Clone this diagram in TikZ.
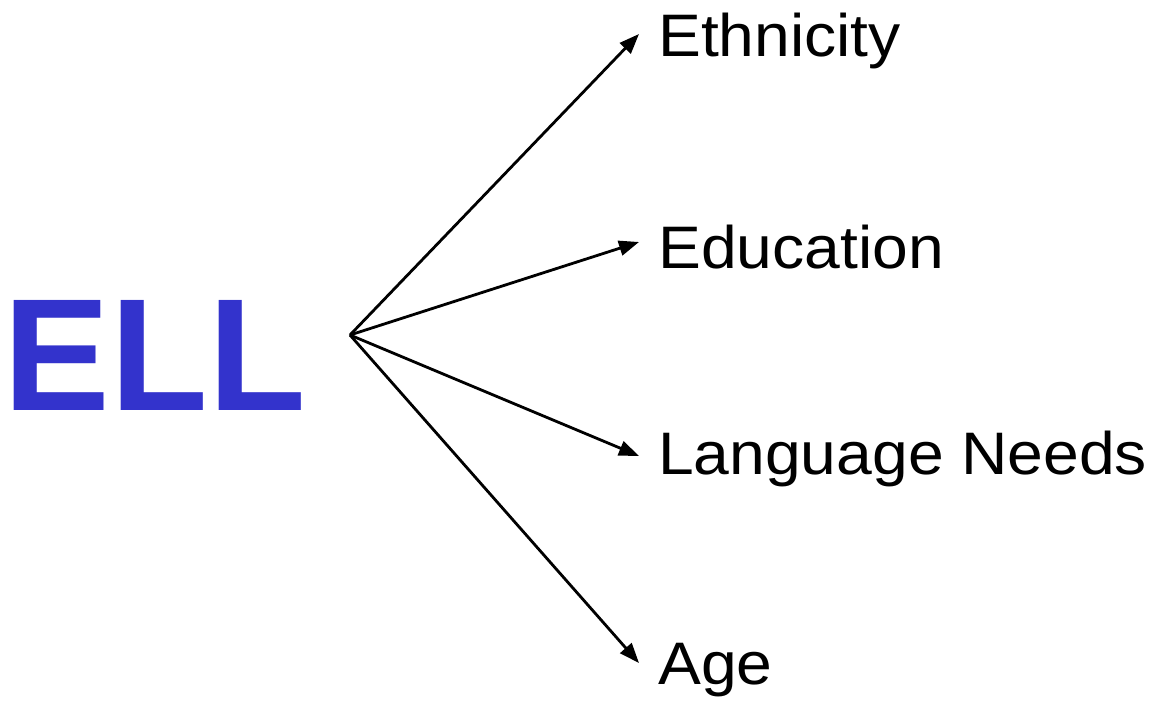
\documentclass[tikz,border=0pt]{standalone}
\usepackage{fontspec}
\setmainfont{Liberation Sans}
\newfontfamily\lblfont[FakeStretch=1.07]{Liberation Sans}
\usetikzlibrary{arrows.meta}
\definecolor{ellblue}{RGB}{51,51,204}
\begin{document}
\begin{tikzpicture}[x=1pt,y=-1pt,
  lbl/.style={anchor=base west,inner sep=0pt,font=\lblfont\fontsize{60}{60}\selectfont},
  conn/.style={line width=2.8pt,-{Triangle[length=20pt,width=15pt]}}]
\useasboundingbox (0,0) rectangle (1162,702);
\node[anchor=base west,inner sep=0pt,text=ellblue,font=\fontsize{160}{160}\selectfont\bfseries] (ell) at (3.5,410) {ELL};
\coordinate (hub) at (350,335);
\node[lbl] (eth) at (658,56) {Ethnicity};
\node[lbl] (edu) at (658,268) {Education};
\node[lbl] (lang) at (658,474) {Language Needs};
\node[lbl] (age) at (658,684) {Age};
\coordinate (teth) at (639,34);
\coordinate (tedu) at (639,242);
\coordinate (tlang) at (639,456);
\coordinate (tage) at (639,663);
\draw[conn] (hub) -- (teth);
\draw[conn] (hub) -- (tedu);
\draw[conn] (hub) -- (tlang);
\draw[conn] (hub) -- (tage);
\end{tikzpicture}
\end{document}
